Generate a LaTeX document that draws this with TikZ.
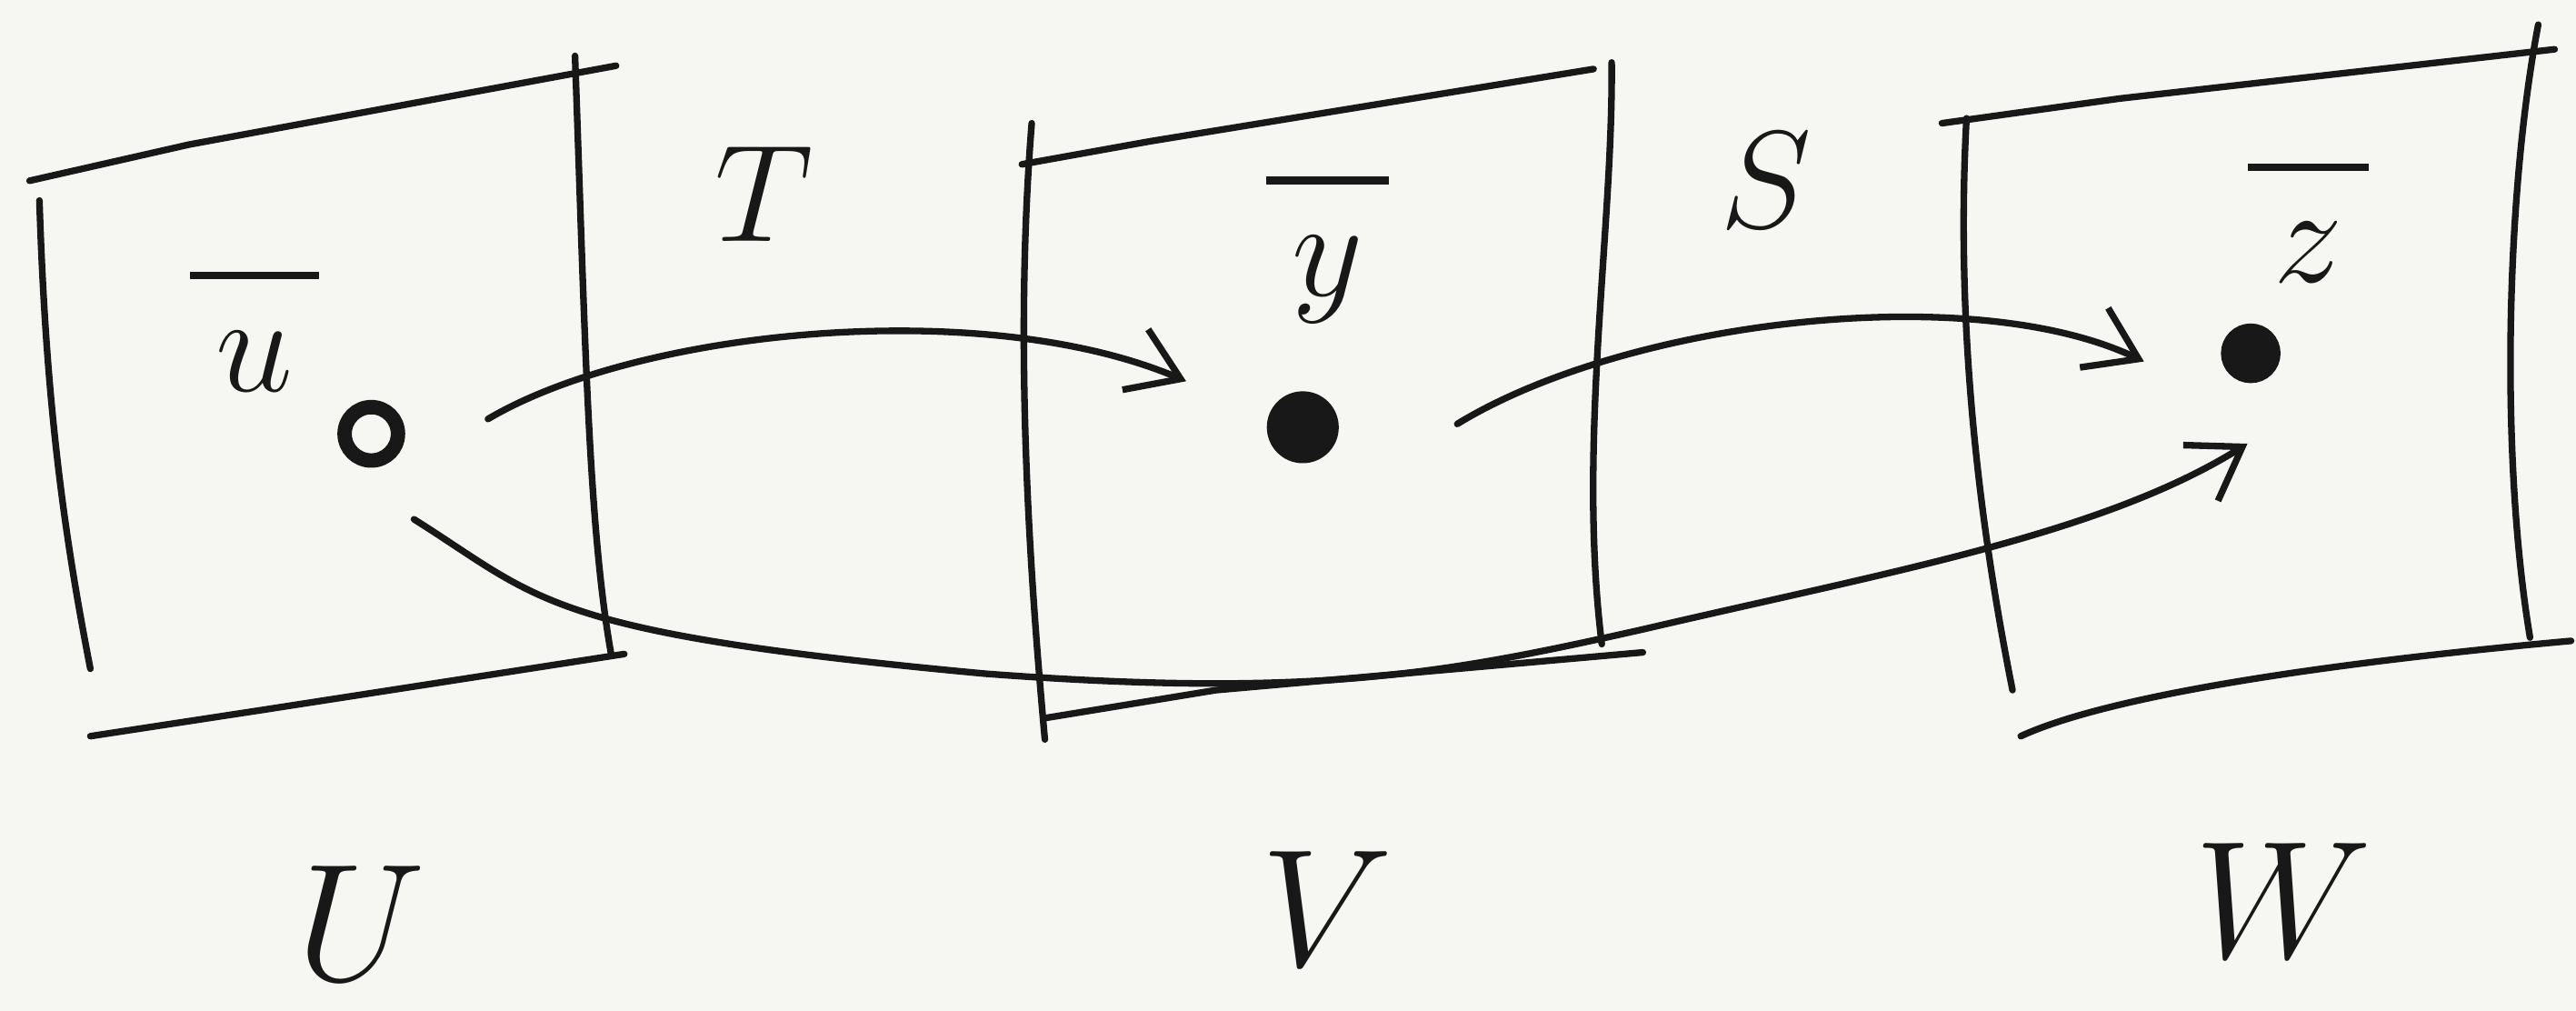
\RequirePackage{fix-cm}
\documentclass[tikz,border=0pt]{standalone}
\usetikzlibrary{arrows.meta}
\definecolor{paper}{RGB}{246,247,242}
\definecolor{ink}{RGB}{24,24,24}
\newcommand{\hbarred}[1]{\vbox{\hrule height 2.6pt\kern18pt\hbox{\hspace{9pt}$#1$\hspace{9pt}}}}
\begin{document}
\begin{tikzpicture}[x=0.02cm,y=-0.02cm,
  pen/.style={draw=ink,line width=2.3pt,line cap=round,line join=round},
  arr/.style={pen,-{Straight Barb[length=0.6cm,width=0.8cm,line width=2.3pt]}},
  lbl/.style={text=ink,inner sep=0pt,font=\fontsize{48}{56}\selectfont},
  big/.style={text=ink,inner sep=0pt,font=\fontsize{58}{66}\selectfont},
  pt/.style={circle,draw=ink,line width=5pt,inner sep=0pt,minimum size=0.65cm}]
\fill[paper] (0,0) rectangle (1568,615);
\useasboundingbox (0,0) rectangle (1568,615);
% box U
\draw[pen] (18,110) -- (115,88) -- (375,40);
\draw[pen] (350,34) .. controls (356,200) and (358,320) .. (372,398);
\draw[pen] (55,448) -- (160,432) -- (380,398);
\draw[pen] (24,122) .. controls (28,250) and (40,330) .. (55,407);
% box V
\draw[pen] (622,100) -- (700,86) -- (970,42);
\draw[pen] (628,75) .. controls (618,200) and (625,330) .. (636,450);
\draw[pen] (981,38) .. controls (982,140) and (960,270) .. (975,392);
\draw[pen] (636,437) -- (740,420) -- (1000,397);
% box W
\draw[pen] (1182,75) -- (1290,60) -- (1555,30);
\draw[pen] (1197,72) .. controls (1190,200) and (1205,320) .. (1225,420);
\draw[pen] (1545,15) .. controls (1525,120) and (1522,280) .. (1540,388);
\draw[pen] (1230,448) .. controls (1280,425) and (1400,405) .. (1565,390);
% labels
\node[lbl] (T) at (465,118) {$T$};
\node[lbl] (S) at (1075,110) {$S$};
\node[lbl,anchor=base] (ubar) at (155,238) {\hbarred{u}};
\node[lbl,anchor=base] (ybar) at (808,180) {\hbarred{y}};
\node[lbl,anchor=base] (zbar) at (1405,172) {\hbarred{z}};
\node[big] (U) at (220,562) {$U$};
\node[big] (V) at (808,553) {$V$};
\node[big] (W) at (1390,548) {$W$};
% points
\node[pt] (u0) at (226,264) {};
\node[pt,fill=ink,minimum size=0.7cm] (y0) at (793,260) {};
\node[pt,fill=ink,minimum size=0.55cm] (z0) at (1370,215) {};
% maps
\coordinate (a1) at (297,255);
\coordinate (b1) at (722,232);
\coordinate (a2) at (887,258);
\coordinate (b2) at (1305,220);
\coordinate (a3) at (252,316);
\coordinate (b3) at (1368,270);
\draw[arr] (a1) .. controls (390,200) and (600,180) .. (b1);
\draw[arr] (a2) .. controls (990,195) and (1200,170) .. (b2);
\draw[arr] (a3) .. controls (330,365) and (330,385) .. (600,410)
  .. controls (800,425) and (880,410) .. (1000,383)
  .. controls (1150,348) and (1280,325) .. (b3);
\end{tikzpicture}
\end{document}
